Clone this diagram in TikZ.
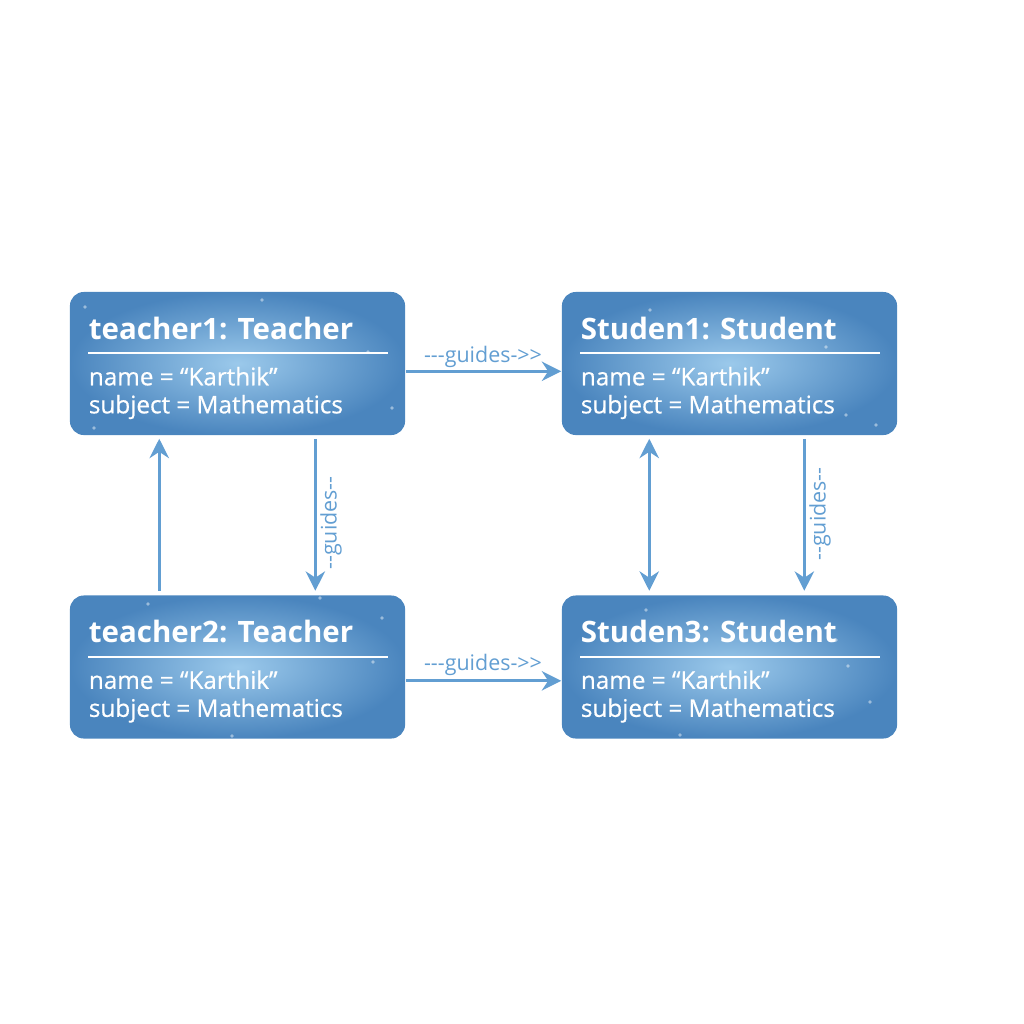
\documentclass[tikz,border=0pt]{standalone}
\usepackage{fontspec}
\setmainfont{Open Sans}
\newfontfamily\attrfont{Open Sans}[FakeBold=0.6]
\newfontfamily\lblfont{Open Sans}[Ligatures=TeXOff]
\usetikzlibrary{arrows.meta}

\definecolor{boxdark}{RGB}{74,133,190}
\definecolor{boxlight}{RGB}{155,201,235}
\definecolor{linkblue}{RGB}{98,158,210}

\begin{document}
\begin{tikzpicture}[x=0.01cm,y=-0.01cm,
  obj/.style={rounded corners=0.14cm,minimum width=3.35cm,minimum height=1.43cm,
    shade,inner color=boxlight,outer color=boxdark,inner sep=0pt},
  title/.style={anchor=base west,inner sep=0pt,text=white,font=\fontsize{8.38pt}{10pt}\selectfont\bfseries},
  attr/.style={anchor=base west,inner sep=0pt,text=white,font=\attrfont\fontsize{6.9pt}{8pt}\selectfont},
  link/.style={draw=linkblue,line width=0.9pt,-{Stealth[length=5.5pt,width=5.5pt]}},
  lbl/.style={inner sep=0pt,text=linkblue,font=\lblfont\fontsize{6.1pt}{7pt}\selectfont}]
  \useasboundingbox (0,0) rectangle (1024,1024);

  \node[obj] (t1) at (237.5,363.5) {};
  \node[obj] (s1) at (729.5,363.5) {};
  \node[obj] (t2) at (237.5,667)   {};
  \node[obj] (s3) at (729.5,667)   {};

  % small sparkles
  \foreach \x/\y in {85/307,262/300,368/352,392/408,94/428,650/310,826/347,846/415,876/425,
                     148/604,320/598,373/662,382/618,232/736,646/610,836/640,848/666,870/702,680/735}{
    \fill[white,opacity=0.45] (\x,\y) circle (0.018cm);
  }

  \foreach \b/\t in {t1/teacher1: Teacher,s1/Studen1: Student,t2/teacher2: Teacher,s3/Studen3: Student}{
    \node[title] (\b-title) at ([xshift=0.19cm,yshift=-0.48cm]\b.north west) {\t};
    \draw[white,line width=0.6pt] ([xshift=0.19cm,yshift=-0.62cm]\b.north west) -- ([xshift=-0.18cm,yshift=-0.62cm]\b.north east);
    \node[attr] (\b-name) at ([xshift=0.19cm,yshift=-0.94cm]\b.north west) {name = “Karthik”};
    \node[attr] (\b-subj) at ([xshift=0.19cm,yshift=-1.22cm]\b.north west) {subject = Mathematics};
  }

  \draw[link] ([yshift=-0.8cm]t1.north east) -- ([yshift=-0.8cm]s1.north west);
  \draw[link] ([yshift=-0.86cm]t2.north east) -- ([yshift=-0.86cm]s3.north west);
  \node[lbl] (g1) at (483,357) {---guides->>};
  \node[lbl] (g2) at (483,665) {---guides->>};

  \draw[link] ([xshift=2.46cm,yshift=-0.03cm]t1.south west) -- ([xshift=2.46cm,yshift=0.04cm]t2.north west);
  \node[lbl,rotate=90] (g3) at (331,523) {--guides--};
  \draw[link] ([xshift=0.9cm,yshift=0.04cm]t2.north west) -- ([xshift=0.9cm,yshift=-0.03cm]t1.south west);

  \draw[link,{Stealth[length=5.5pt,width=5.5pt]}-{Stealth[length=5.5pt,width=5.5pt]}] ([xshift=0.88cm,yshift=-0.03cm]s1.south west) -- ([xshift=0.88cm,yshift=0.04cm]s3.north west);
  \draw[link] ([xshift=2.43cm,yshift=-0.03cm]s1.south west) -- ([xshift=2.43cm,yshift=0.04cm]s3.north west);
  \node[lbl,rotate=90] (g4) at (820,514) {--guides--};
\end{tikzpicture}
\end{document}
